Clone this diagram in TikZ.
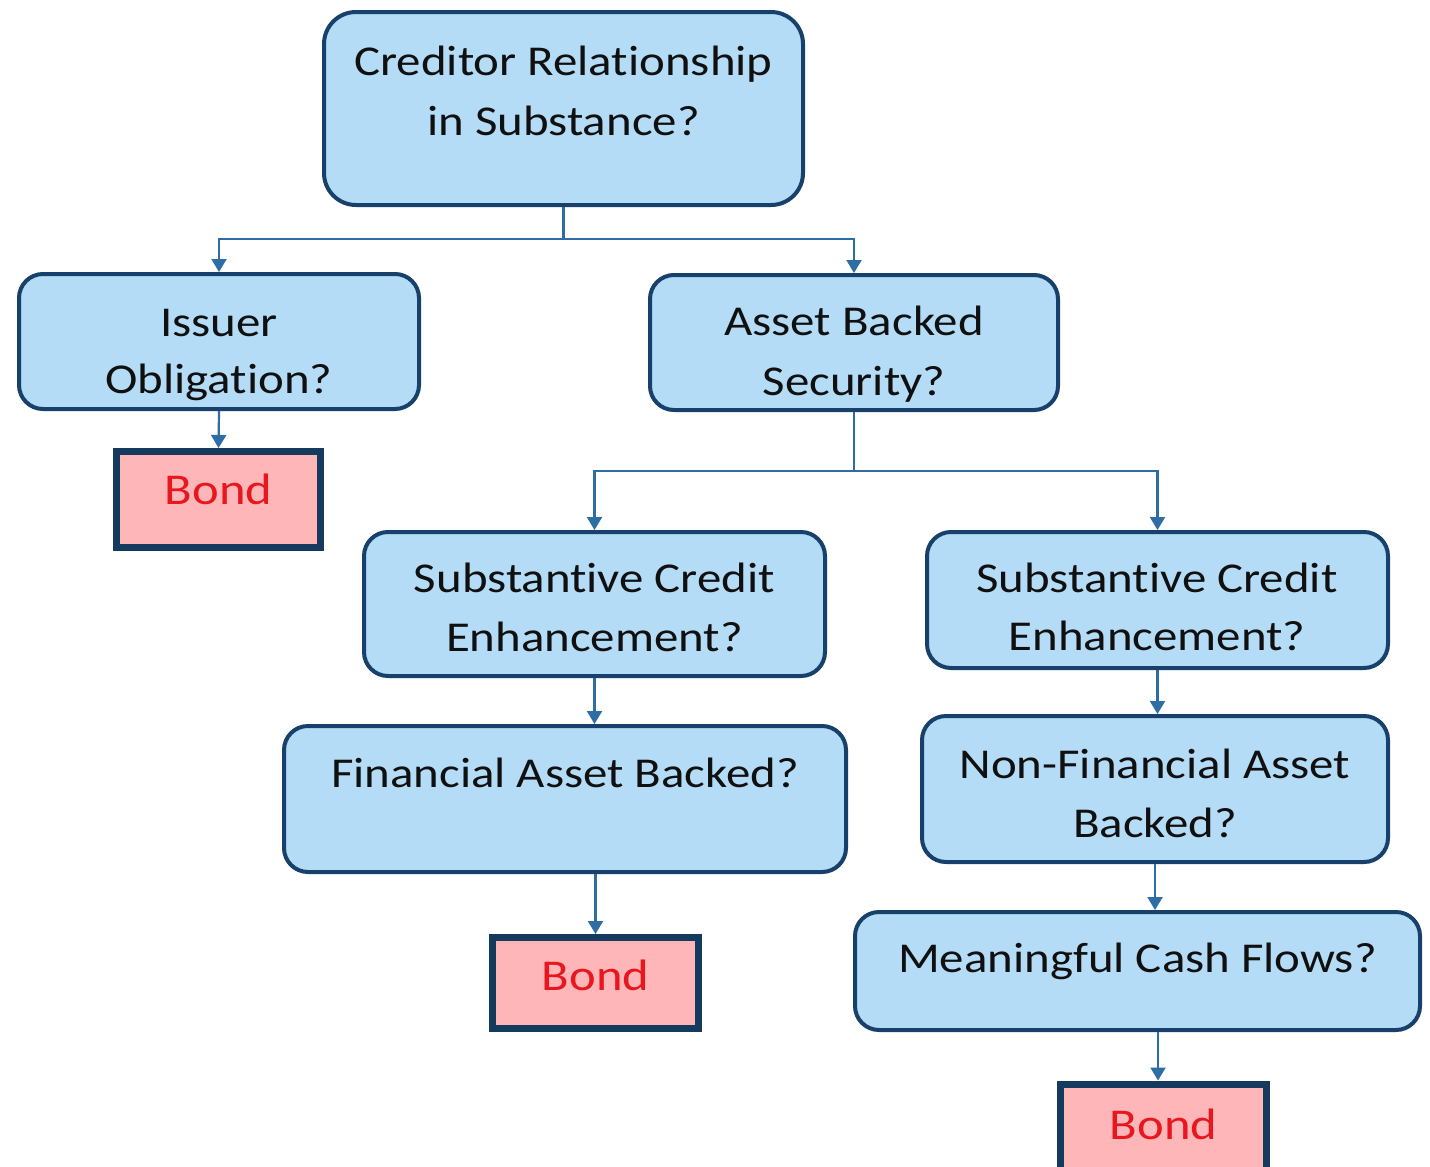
\documentclass[tikz,border=0pt]{standalone}
\usepackage{fontspec}
\setmainfont{Carlito}[FakeStretch=1.15,Ligatures={NoCommon}]
\usetikzlibrary{arrows.meta}
\definecolor{boxfill}{HTML}{B4DCF6}
\definecolor{boxline}{HTML}{17406A}
\definecolor{arrowc}{HTML}{2F6EA5}
\definecolor{bondfill}{HTML}{FFB6B8}
\definecolor{bondtext}{HTML}{E8161E}
\definecolor{bondline}{HTML}{143A5E}
\definecolor{txtc}{HTML}{101010}
\tikzset{
  qbox/.style={draw=boxline, line width=4pt, fill=boxfill, rounded corners=24pt, inner sep=0pt},
  bondbox/.style={draw=bondline, line width=7pt, fill=bondfill, inner sep=0pt},
  txt/.style={anchor=base, inner sep=0pt, text=txtc, font=\fontsize{42.5}{59}\selectfont},
  bondtxt/.style={anchor=base, inner sep=0pt, text=bondtext, font=\fontsize{44}{59}\selectfont},
  conn/.style={draw=arrowc, line width=2.2pt, -{Triangle[width=15pt,length=13pt]}},
  plain/.style={draw=arrowc, line width=2.2pt}
}
\begin{document}
\begin{tikzpicture}[x=1pt,y=-1pt]
\useasboundingbox (0,0) rectangle (1430,1167);
\clip (0,0) rectangle (1430,1167);
\fill[white] (0,0) rectangle (1430,1167);
% boxes
\node[qbox, rounded corners=32pt, minimum width=479pt, minimum height=193pt] (top) at (563.5,108.5) {};
\node[qbox, minimum width=400pt, minimum height=135pt] (issuer) at (219,341.5) {};
\node[qbox, minimum width=408pt, minimum height=135pt] (abs) at (854,342.5) {};
\node[bondbox, minimum width=204pt, minimum height=96pt] (bond1) at (218.5,499.5) {};
\node[qbox, minimum width=461pt, minimum height=144pt] (sceL) at (594.5,604) {};
\node[qbox, minimum width=461pt, minimum height=136pt] (sceR) at (1157.5,600) {};
\node[qbox, minimum width=562pt, minimum height=146pt] (fab) at (565,799) {};
\node[qbox, minimum width=466pt, minimum height=146pt] (nfa) at (1155,789) {};
\node[qbox, minimum width=565pt, minimum height=118pt] (mcf) at (1137.5,971) {};
\node[bondbox, minimum width=206pt, minimum height=91pt] (bond2) at (595.5,983) {};
\node[bondbox, minimum width=206pt, minimum height=94pt] (bond3) at (1163.5,1131) {};
% texts
\node[txt] (t1a) at (563.5,75) {Creditor Relationship};
\node[txt] (t1b) at (563.5,135) {in Substance?};
\node[txt] (t2a) at (219,336) {Issuer};
\node[txt] (t2b) at (219,393) {Obligation?};
\node[txt] (t3a) at (854,335) {Asset Backed};
\node[txt] (t3b) at (854,395) {Security?};
\node[txt] (t4a) at (594.5,592) {Substantive Credit};
\node[txt] (t4b) at (594.5,651) {Enhancement?};
\node[txt] (t5a) at (1157,592) {Substantive Credit};
\node[txt] (t5b) at (1157,650) {Enhancement?};
\node[txt] (t6) at (565,787) {Financial Asset Backed?};
\node[txt] (t7a) at (1155,778) {Non-Financial Asset};
\node[txt] (t7b) at (1155,837) {Backed?};
\node[txt] (t8) at (1137.5,972) {Meaningful Cash Flows?};
\node[bondtxt] (b1) at (218.5,504) {Bond};
\node[bondtxt] (b2) at (595.5,990) {Bond};
\node[bondtxt] (b3) at (1163.5,1139) {Bond};
% connectors
\coordinate (j1) at ([yshift=-32pt]top.south);
\coordinate (j2) at ([yshift=-59pt]abs.south);
\draw[plain] (top.south) -- (j1);
\draw[conn] (j1) -| (issuer.north);
\draw[conn] (j1) -| (abs.north);
\draw[conn] (issuer.south) -- (bond1.north);
\draw[plain] (abs.south) -- (j2);
\draw[conn] (j2) -| (sceL.north);
\draw[conn] (j2) -| (sceR.north);
\draw[conn] (sceL.south) -- (sceL.south |- fab.north);
\draw[conn] (bond2.north |- fab.south) -- (bond2.north);
\draw[conn] (sceR.south) -- (sceR.south |- nfa.north);
\draw[conn] (nfa.south) -- (nfa.south |- mcf.north);
\coordinate (b3top) at ([xshift=-5.5pt]bond3.north);
\draw[conn] (b3top |- mcf.south) -- (b3top);
\end{tikzpicture}
\end{document}
